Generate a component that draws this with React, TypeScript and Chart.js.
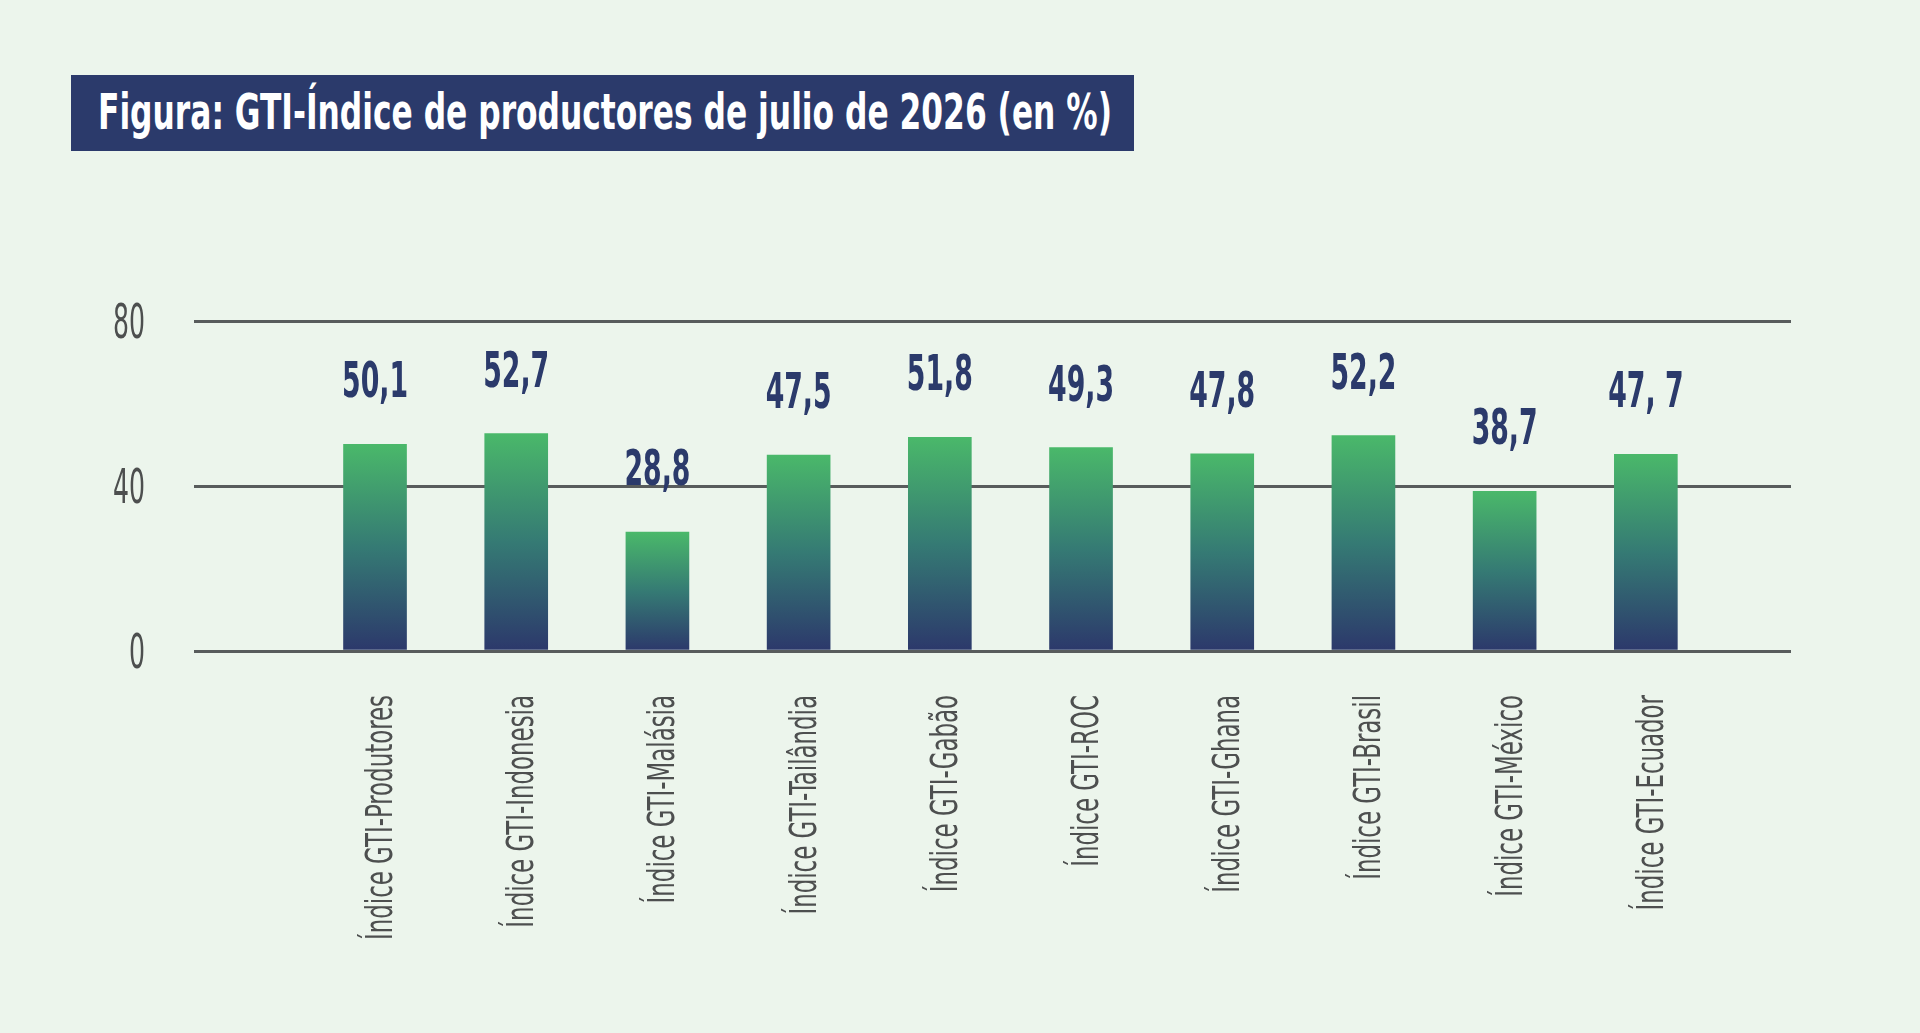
import { useEffect, useRef } from 'react'
import { Chart, registerables } from 'chart.js'

Chart.register(...registerables)

const categories = [
  'Índice GTI-Produtores',
  'Índice GTI-Indonesia',
  'Índice GTI-Malásia',
  'Índice GTI-Tailândia',
  'Índice GTI-Gabão',
  'Índice GTI-ROC',
  'Índice GTI-Ghana',
  'Índice GTI-Brasil',
  'Índice GTI-México',
  'Índice GTI-Ecuador',
]
const values = [50.1, 52.7, 28.8, 47.5, 51.8, 49.3, 47.8, 52.2, 38.7, 47.7]
const valueLabels = ['50,1', '52,7', '28,8', '47,5', '51,8', '49,3', '47,8', '52,2', '38,7', '47, 7']
const yTicks = [0, 40, 80]

const FONT = '"DejaVu Sans Condensed", "DejaVu Sans", sans-serif'
const NAVY = '#2b3a6b'
const GREEN = '#4ab86a'
const GREY = '#4d4f4f'

// the source uses a very narrow face, so texts are squeezed horizontally
const squeeze = (ctx: CanvasRenderingContext2D, sample: string, width: number) =>
  width / ctx.measureText(sample).width

const textPlugin = {
  id: 'narrowTexts',
  afterDatasetsDraw(chart: any) {
    const ctx: CanvasRenderingContext2D = chart.ctx
    const x = chart.scales.x
    const y = chart.scales.y
    const meta = chart.getDatasetMeta(0)
    ctx.save()

    // values above the bars
    ctx.fillStyle = NAVY
    ctx.font = `bold 50px ${FONT}`
    ctx.textAlign = 'center'
    ctx.textBaseline = 'alphabetic'
    let f = squeeze(ctx, '50,1', 66)
    meta.data.forEach((bar: any, i: number) => {
      ctx.save()
      ctx.translate(bar.x, bar.y - 47)
      ctx.scale(f, 1)
      ctx.fillText(valueLabels[i], 0, 0)
      ctx.restore()
    })

    // y tick labels
    ctx.fillStyle = GREY
    ctx.font = `48px ${FONT}`
    ctx.textAlign = 'right'
    f = squeeze(ctx, '80', 32)
    y.ticks.forEach((t: any) => {
      ctx.save()
      ctx.translate(145, y.getPixelForValue(t.value) + 17)
      ctx.scale(f, 1)
      ctx.fillText(String(t.value), 0, 0)
      ctx.restore()
    })

    // rotated category labels
    ctx.font = `38px ${FONT}`
    ctx.textAlign = 'right'
    f = squeeze(ctx, categories[0], 245)
    categories.forEach((c, i) => {
      ctx.save()
      ctx.translate(x.getPixelForValue(i) + 17, y.bottom + 44)
      ctx.rotate(-Math.PI / 2)
      ctx.scale(f, 1)
      ctx.fillText(c, 0, 0)
      ctx.restore()
    })

    ctx.restore()
  },
}

const BarChart = () => {
  const canvasRef = useRef<HTMLCanvasElement>(null)

  useEffect(() => {
    const chart = new Chart(canvasRef.current!, {
      type: 'bar',
      data: {
        datasets: [
          {
            data: values.map((v, i) => ({ x: i, y: v })),
            barThickness: 63,
            backgroundColor: (c: any) => {
              const ch = c.chart
              if (!ch.chartArea || c.type !== 'data') return GREEN
              const y = ch.scales.y
              const top = y.getPixelForValue(c.parsed.y)
              const bottom = y.getPixelForValue(0)
              const g = ch.ctx.createLinearGradient(0, top, 0, bottom)
              g.addColorStop(0, GREEN)
              g.addColorStop(0.5, '#357a74')
              g.addColorStop(1, '#2c386b')
              return g
            },
          },
        ],
      },
      options: {
        animation: false,
        responsive: false,
        layout: { padding: { top: 321, right: 129, left: 0, bottom: 0 } },
        plugins: {
          legend: { display: false },
          tooltip: { enabled: false },
        },
        scales: {
          x: {
            type: 'linear',
            offset: false,
            min: -1.282,
            max: 10.028,
            grid: { display: false },
            border: { display: false },
            ticks: { display: false },
            afterFit: (scale: any) => {
              scale.height = 1033 - 651
            },
          },
          y: {
            min: 0,
            max: 80,
            afterBuildTicks: (scale: any) => {
              scale.ticks = yTicks.map((v) => ({ value: v }))
            },
            afterFit: (scale: any) => {
              scale.width = 194
            },
            grid: { color: '#585c5c', lineWidth: 3, drawTicks: false },
            border: { display: false },
            ticks: { display: false },
          },
        },
      },
      plugins: [textPlugin],
    })

    return () => chart.destroy()
  }, [])

  return (
    <canvas
      ref={canvasRef}
      width={1920}
      height={1033}
      style={{ position: 'absolute', left: 0, top: 0, width: 1920, height: 1033 }}
    ></canvas>
  )
}

const Title = () => {
  const spanRef = useRef<HTMLSpanElement>(null)

  useEffect(() => {
    const s = spanRef.current!
    const w = s.getBoundingClientRect().width
    s.style.transform = `scaleX(${1014 / w})`
  }, [])

  return (
    <div
      style={{
        position: 'absolute',
        left: 71,
        top: 75,
        width: 1063,
        height: 76,
        background: NAVY,
        overflow: 'hidden',
      }}
    >
      <span
        ref={spanRef}
        style={{
          position: 'absolute',
          left: 27,
          top: 0,
          color: '#fff',
          fontFamily: FONT,
          fontWeight: 'bold',
          fontSize: 49,
          lineHeight: '76px',
          whiteSpace: 'nowrap',
          transformOrigin: 'left center',
        }}
      >
        Figura: GTI-Índice de productores de julio de 2026 (en %)
      </span>
    </div>
  )
}

const App = () => {
  return (
    <div
      style={{
        position: 'fixed',
        left: 0,
        top: 0,
        width: 1920,
        height: 1033,
        background: '#ecf5ec',
        overflow: 'hidden',
      }}
    >
      <BarChart />
      <Title />
    </div>
  )
}

export default App
